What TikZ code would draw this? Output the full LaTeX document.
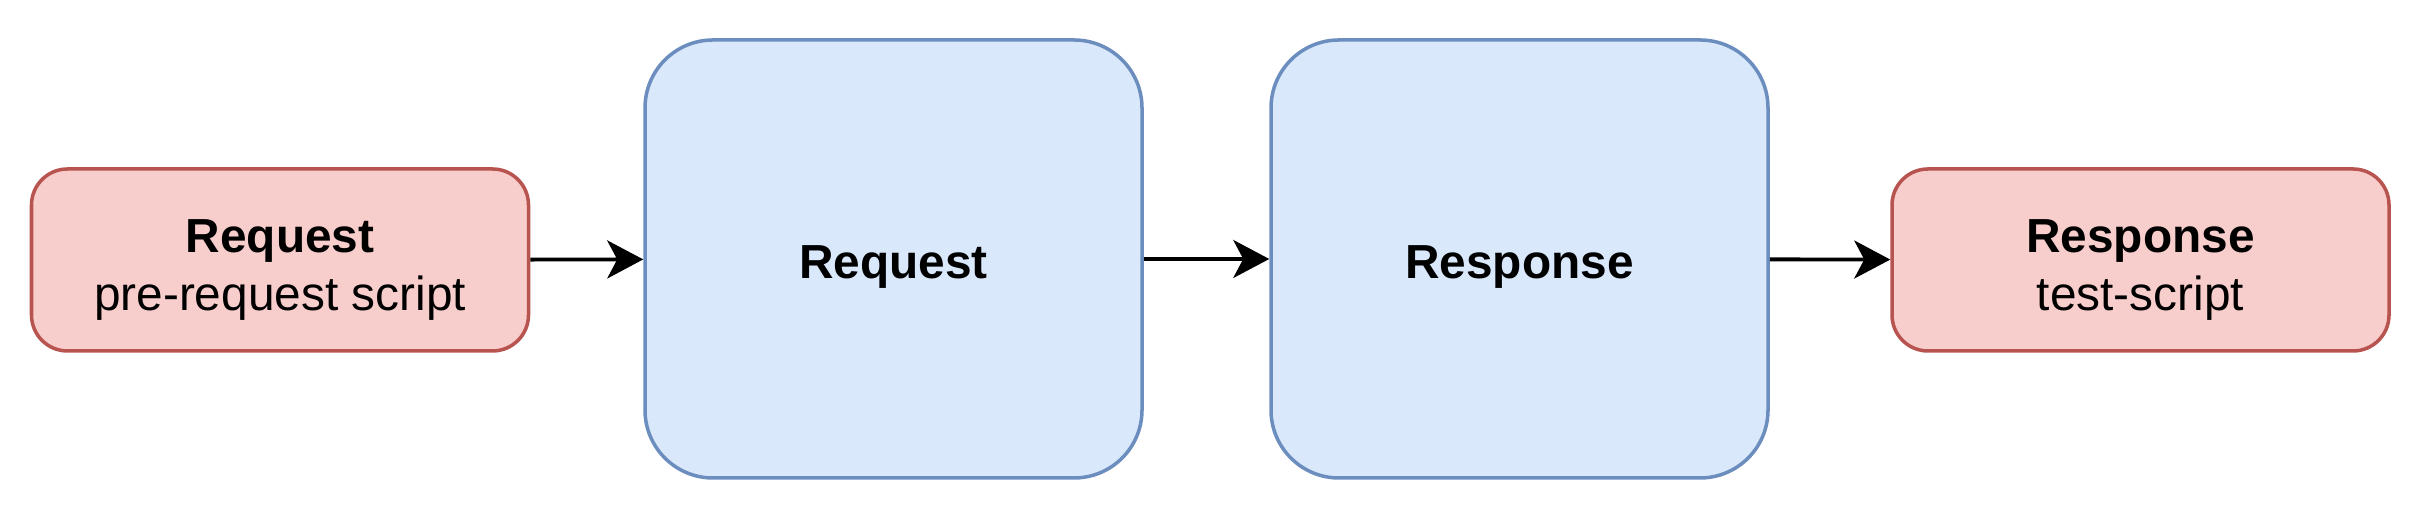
\documentclass[tikz,border=0pt]{standalone}
\usepackage{fontspec}
\setmainfont{Liberation Sans}
\usetikzlibrary{arrows.meta}

\definecolor{redfill}{HTML}{F8CECC}
\definecolor{redline}{HTML}{B85450}
\definecolor{bluefill}{HTML}{DAE8FC}
\definecolor{blueline}{HTML}{6C8EBF}
\newcommand{\topstrut}{\rule{0pt}{0.52cm}}

\begin{document}
\begin{tikzpicture}[
	font=\fontsize{13.6pt}{16.5pt}\selectfont,
	script/.style={draw=redline, fill=redfill, line width=1pt, rounded corners=0.36cm,
		minimum width=4.97cm, minimum height=1.82cm, align=center, inner sep=0pt},
	phase/.style={draw=blueline, fill=bluefill, line width=1pt, rounded corners=0.68cm,
		minimum width=4.97cm, minimum height=4.38cm, align=center, inner sep=0pt,
		text height=0.49cm, text depth=0.1cm},
	flow/.style={line width=1.1pt, -{Stealth[length=0.36cm, width=0.38cm, inset=0.1cm]}}
	]
	\useasboundingbox (0, 0) rectangle (24.19, 5.15);
	\node[script] (prescript) at (2.80, 2.55) {\topstrut\textbf{Request}\\pre-request script};
	\node[phase] (request) at (8.935, 2.56) {\textbf{Request}};
	\node[phase] (response) at (15.195, 2.56) {\textbf{Response}};
	\node[script] (testscript) at (21.405, 2.55) {\topstrut\textbf{Response}\\test-script};
	\draw[flow] (prescript) -- (request);
	\draw[flow] (request) -- (response);
	\draw[flow] (response) -- (testscript);
\end{tikzpicture}
\end{document}
